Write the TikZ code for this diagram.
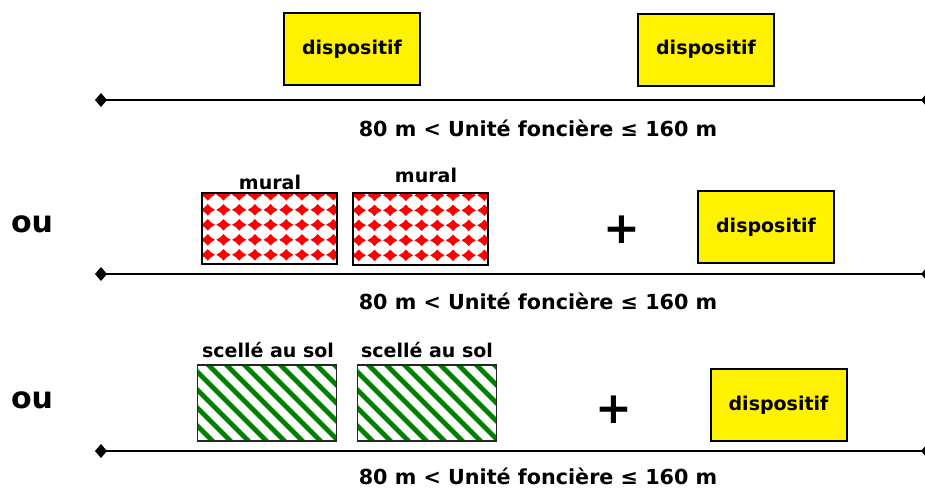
\documentclass[tikz,border=0pt]{standalone}
\usepackage{fontspec}
\setmainfont{DejaVu Sans}
\usetikzlibrary{arrows.meta}
\definecolor{solgreen}{RGB}{0,128,0}

\begin{document}
\begin{tikzpicture}[x=1pt,y=-1pt,
	txt/.style={font=\fontsize{19}{22}\selectfont\bfseries,inner sep=0pt},
	unite/.style={font=\fontsize{20.7}{24}\selectfont\bfseries,inner sep=0pt},
	oustyle/.style={font=\fontsize{30}{30}\selectfont\bfseries,inner sep=0pt},
	dispbox/.style={draw=black,line width=2pt,fill=yellow,minimum width=136pt,minimum height=72pt,inner sep=0pt,txt},
	murbox/.style={minimum width=135pt,minimum height=71pt,inner sep=0pt},
	solbox/.style={minimum width=139pt,minimum height=76pt,inner sep=0pt},
	murline/.style={draw=black,line width=2pt},
	solline/.style={draw=black!85,line width=1.5pt},
	plus/.style={font=\fontsize{44}{44}\selectfont\bfseries,inner sep=0pt},
	borne/.style={line width=2.5pt,{Diamond[length=12pt,width=14pt]}-{Diamond[length=12pt,width=14pt]}}]
	\useasboundingbox (0,0) rectangle (925,488);
	% ligne 1
	\node[dispbox] (d1) at (352,49) {dispositif};
	\node[dispbox] (d2) at (706,49.5) {dispositif};
	\coordinate (a1) at (95,100);
	\coordinate (b1) at (933,100);
	\node[unite] (u1) at (538,128) {80 m < Unité foncière ≤ 160 m};
	% ligne 2
	\node[oustyle] (ou1) at (32,224) {ou};
	\node[murbox] (m1) at (269.5,228.5) {};
	\node[murbox] (m2) at (420.5,229) {};
	\foreach \bx in {m1,m2} {
		\begin{scope}
			\clip (\bx.north west) rectangle (\bx.south east);
			\begin{scope}[shift={(\bx.north west)}]
				\foreach \x in {0,...,8} \foreach \y in {0,...,4}
					\fill[red,shift={(6+15.7*\x,2+15*\y)}] (0,-5.8) -- (3,-2.6) -- (7.2,0) -- (3,2.6) -- (0,5.8) -- (-3,2.6) -- (-7.2,0) -- (-3,-2.6) -- cycle;
			\end{scope}
		\end{scope}
		\draw[murline] (\bx.north west) rectangle (\bx.south east);
	}
	\node[txt] (lm1) at (270,182) {mural};
	\node[txt] (lm2) at (426,175) {mural};
	\node[plus] (p1) at (622,230) {+};
	\node[dispbox] (d3) at (766,227) {dispositif};
	\coordinate (a2) at (95,274);
	\coordinate (b2) at (933,274);
	\node[unite] (u2) at (538,301) {80 m < Unité foncière ≤ 160 m};
	% ligne 3
	\node[oustyle] (ou2) at (32,400) {ou};
	\node[solbox] (s1) at (267,403) {};
	\node[solbox] (s2) at (427,403) {};
	\foreach \bx in {s1,s2} {
		\begin{scope}
			\clip (\bx.north west) rectangle (\bx.south east);
			\begin{scope}[shift={(\bx.north west)}]
				\foreach \k in {-5,...,8}
					\draw[solgreen,line width=4.8pt] (6+18*\k,-5) -- ++(90,90);
			\end{scope}
		\end{scope}
		\draw[solline] (\bx.north west) rectangle (\bx.south east);
	}
	\node[txt] (ls1) at (268,350) {scellé au sol};
	\node[txt] (ls2) at (427,350) {scellé au sol};
	\node[plus] (p2) at (614,410) {+};
	\node[dispbox] (d4) at (778.5,405) {dispositif};
	\coordinate (a3) at (95,451);
	\coordinate (b3) at (933,451);
	\node[unite] (u3) at (538,476) {80 m < Unité foncière ≤ 160 m};
	\foreach \from/\to in {a1/b1, a2/b2, a3/b3}
		\draw[borne] (\from) -- (\to);
\end{tikzpicture}
\end{document}
